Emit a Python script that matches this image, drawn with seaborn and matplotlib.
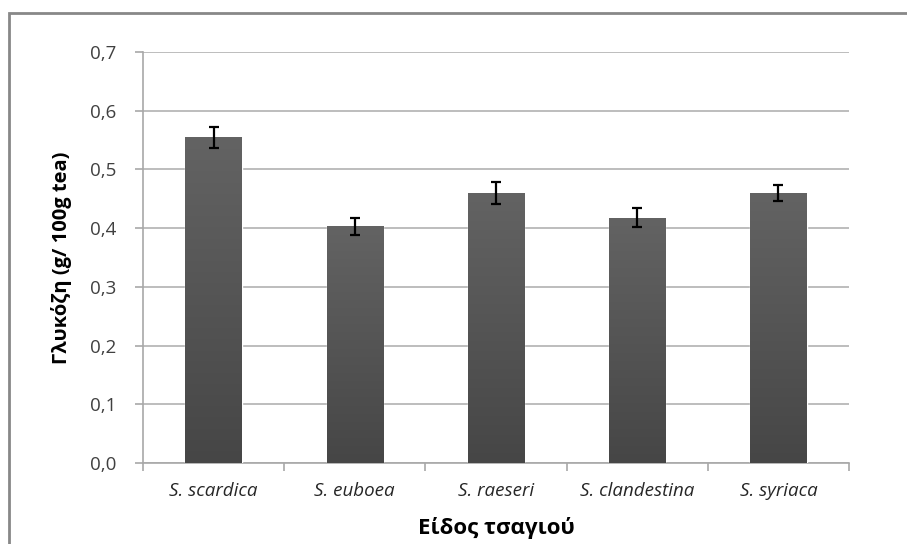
import numpy as np
import pandas as pd
import matplotlib
matplotlib.use("Agg")
import matplotlib.pyplot as plt
from matplotlib.patches import Rectangle
from matplotlib.ticker import FixedLocator, FuncFormatter
import seaborn as sns

# Glucose content per tea species
species = ["S. scardica", "S. euboea", "S. raeseri", "S. clandestina", "S. syriaca"]
glucose = [0.555, 0.403, 0.460, 0.418, 0.460]
glucose_err = [0.018, 0.014, 0.019, 0.016, 0.013]
y_ticks = [0.0, 0.1, 0.2, 0.3, 0.4, 0.5, 0.6, 0.7]

df = pd.DataFrame({"species": species, "glucose": glucose})

sns.set_theme(style="white")
plt.rcParams["font.family"] = ["Open Sans", "DejaVu Sans"]

fig = plt.figure(figsize=(9.07, 5.44), dpi=100)
ax = fig.add_axes([143 / 907, 1 - 463 / 544, (849 - 143) / 907, (463 - 52) / 544])

sns.barplot(data=df, x="species", y="glucose", color="#555555", width=0.4,
            saturation=1, errorbar=None, ax=ax, zorder=3)

# vertical shading on each bar
grad = np.linspace(0, 1, 256).reshape(-1, 1)
cmap = matplotlib.colors.LinearSegmentedColormap.from_list("bar", ["#464646", "#636363"])
for p in ax.patches:
    x0, y0 = p.get_x(), p.get_y()
    w, h = p.get_width(), p.get_height()
    shadow = Rectangle((x0 + 0.006, y0), w, h - 0.002, facecolor="#000000",
                       alpha=0.12, edgecolor="none", zorder=2.5)
    ax.add_patch(shadow)
    im = ax.imshow(grad, extent=[x0, x0 + w, y0, y0 + h], origin="lower",
                   cmap=cmap, aspect="auto", zorder=3.1)
    im.set_clip_path(p)

ax.errorbar(x=np.arange(len(species)), y=glucose, yerr=glucose_err, fmt="none",
            ecolor="black", elinewidth=1.6, capsize=3.6, capthick=1.6, zorder=5)

ax.set_xlim(-0.5, len(species) - 0.5)
ax.set_ylim(0, 0.7)
ax.set_yticks(y_ticks)
ax.yaxis.set_major_formatter(FuncFormatter(lambda v, _: f"{v:.1f}".replace(".", ",")))

ax.grid(axis="y", color="#b8b8b8", linewidth=1.3, zorder=0)
ax.set_axisbelow(True)

for side in ["top", "right"]:
    ax.spines[side].set_visible(False)
for side in ["left", "bottom"]:
    ax.spines[side].set_color("#a8a8a8")
    ax.spines[side].set_linewidth(1.2)

# category tick marks sit on the boundaries between bars
ax.xaxis.set_minor_locator(FixedLocator(np.arange(len(species) + 1) - 0.5))
ax.tick_params(axis="x", which="major", length=0, pad=14, labelsize=13.5, labelcolor="#262626")
ax.tick_params(axis="x", which="minor", bottom=True, length=6, width=1.2, color="#a8a8a8")
ax.tick_params(axis="y", which="major", left=True, length=6, width=1.2, color="#a8a8a8",
               pad=13, labelsize=13.5, labelcolor="#404040")
for lbl in ax.get_xticklabels():
    lbl.set_fontstyle("italic")

ax.set_xlabel("Είδος τσαγιού", fontsize=16, fontweight="bold", color="#000000", labelpad=12)
ax.set_ylabel("Γλυκόζη (g/ 100g tea)", fontsize=14.5, fontweight="bold", color="#000000", labelpad=13)

# outer chart frame
fig.patches.append(Rectangle((9 / 907, -0.1), 1.2, 1 - 13 / 544 + 0.1,
                             transform=fig.transFigure, fill=False,
                             edgecolor="#888888", linewidth=2))

fig.savefig("out.png", dpi=100)
